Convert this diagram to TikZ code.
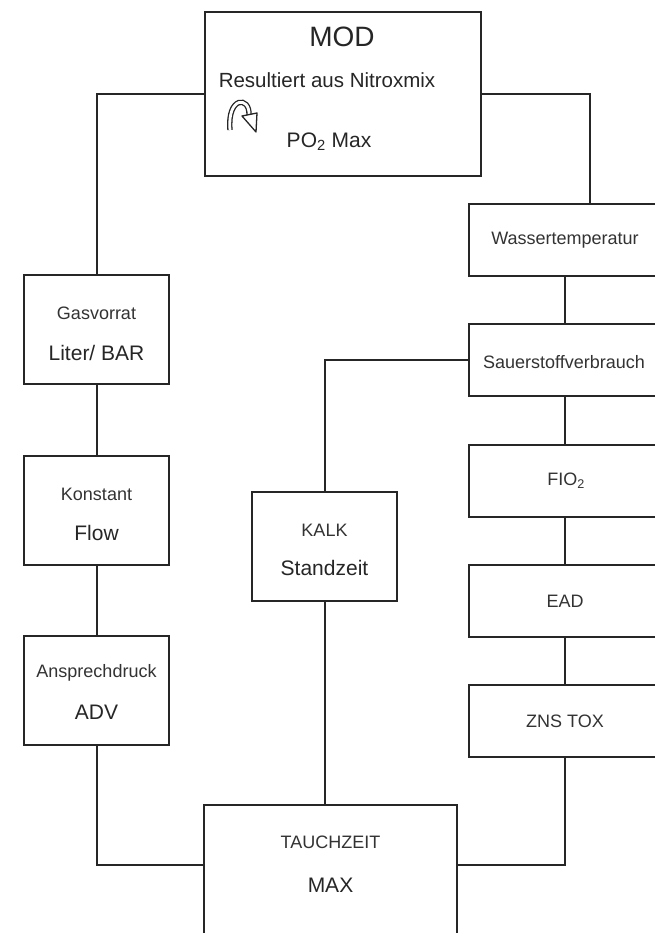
\documentclass[tikz,border=0pt]{standalone}
\usepackage{fontspec}
\setmainfont{Liberation Sans}

\begin{document}
\begin{tikzpicture}[x=1pt,y=-1pt,line width=2pt,draw=black!85,
    box/.style={draw,rectangle,inner sep=0pt},
    small/.style={inner sep=0pt,text=black!80,font=\fontsize{18}{20}\selectfont},
    big/.style={inner sep=0pt,text=black!85,font=\fontsize{21}{24}\selectfont}]
  \useasboundingbox[fill=white] (0,0) rectangle (654,933);

  % boxes
  \node[box,minimum width=276pt,minimum height=164pt] (mod) at (343,94) {};
  \node[box,minimum width=145pt,minimum height=109pt] (gas) at (96.5,329.5) {};
  \node[box,minimum width=145pt,minimum height=109pt] (flow) at (96.5,510.5) {};
  \node[box,minimum width=145pt,minimum height=109pt] (adv) at (96.5,690.5) {};
  \node[box,minimum width=145pt,minimum height=109pt] (kalk) at (324.5,546.5) {};
  \node[box,minimum width=253pt,minimum height=145pt] (tauch) at (330.5,877.5) {};
  \node[box,minimum width=192pt,minimum height=72pt] (wasser) at (565,240) {};
  \node[box,minimum width=192pt,minimum height=72pt] (sauer) at (565,360) {};
  \node[box,minimum width=192pt,minimum height=72pt] (fio) at (565,481) {};
  \node[box,minimum width=192pt,minimum height=72pt] (ead) at (565,601) {};
  \node[box,minimum width=192pt,minimum height=72pt] (zns) at (565,721) {};

  % texts
  \node[inner sep=0pt,text=black!85,font=\fontsize{28}{30}\selectfont] (mod-title) at (342,37) {MOD};
  \node[inner sep=0pt,text=black!85,font=\fontsize{20.5}{22}\selectfont] (mod-note) at (327,80) {Resultiert aus Nitroxmix};
  \node[big] (mod-po) at (329,142) {PO\textsubscript{2} Max};
  \node[small] (gas-a) at (96.5,313) {Gasvorrat};
  \node[big] (gas-b) at (96.5,353) {Liter/ BAR};
  \node[small] (flow-a) at (96.5,494) {Konstant};
  \node[big] (flow-b) at (96.5,533) {Flow};
  \node[small] (adv-a) at (96.5,673) {Ansprechdruck};
  \node[big] (adv-b) at (96.5,712) {ADV};
  \node[small] (kalk-a) at (324.5,530) {KALK};
  \node[big] (kalk-b) at (324.5,568) {Standzeit};
  \node[small] (tauch-a) at (330.5,842) {TAUCHZEIT};
  \node[big] (tauch-b) at (330.5,885) {MAX};
  \node[small] (wasser-a) at (565,240) {Wassertemperatur};
  \node[small] (sauer-a) at (564,362) {Sauerstoffverbrauch};
  \node[small] (fio-a) at (566,481) {FIO\textsubscript{2}};
  \node[small] (ead-a) at (565,601) {EAD};
  \node[small] (zns-a) at (565,721) {ZNS TOX};

  % hollow curved arrow
  \draw[line width=1.3pt,double=white,double distance=2.8pt] (230,130) .. controls (227,96) and (250,96) .. (249,115);
  \filldraw[fill=white,line width=1.3pt,line join=round] (242,116) -- (257,113) -- (256,132) -- cycle;

  % connectors
  \draw (mod.west) -| (gas.north);
  \draw (mod.east) -| ([xshift=25pt]wasser.north);
  \draw (gas.south) -- (flow.north);
  \draw (flow.south) -- (adv.north);
  \draw (adv.south) |- ([yshift=12.5pt]tauch.west);
  \draw (wasser.south) -- (sauer.north);
  \draw (sauer.west) -| (kalk.north);
  \draw (kalk.south) -- (kalk.south |- tauch.north);
  \draw (sauer.south) -- (fio.north);
  \draw (fio.south) -- (ead.north);
  \draw (ead.south) -- (zns.north);
  \draw (zns.south) |- ([yshift=12.5pt]tauch.east);
\end{tikzpicture}
\end{document}
